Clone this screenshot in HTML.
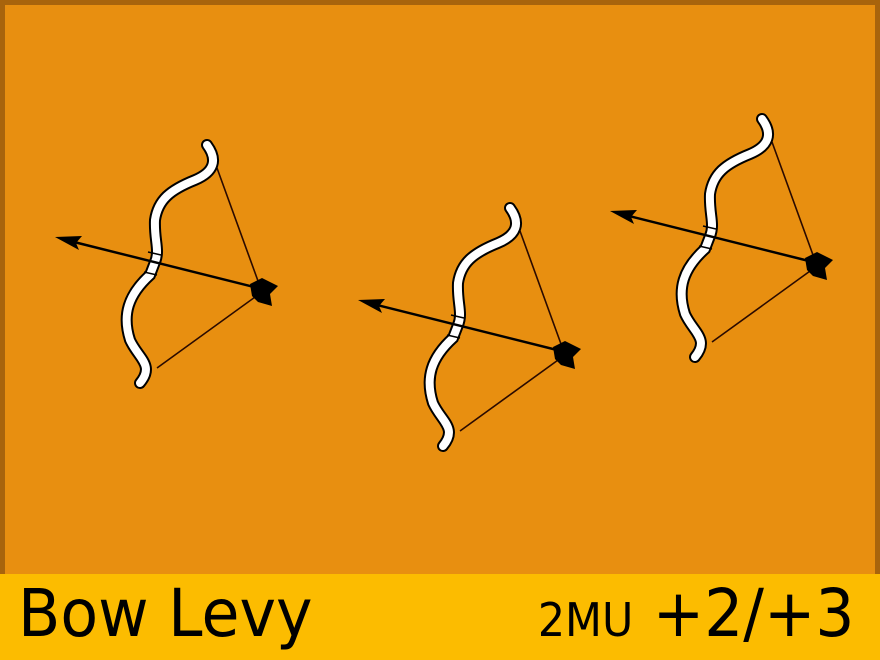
<!DOCTYPE html>
<html><head><meta charset="utf-8"><style>
html,body{margin:0;padding:0}
body{width:880px;height:660px;position:relative;overflow:hidden;font-family:"DejaVu Sans","Liberation Sans",sans-serif}
#card{position:absolute;left:0;top:0;width:880px;height:574px;background:#e88f10;box-sizing:border-box;border:5px solid #a8640c;border-bottom:none}
#bar{position:absolute;left:0;top:574px;width:880px;height:86px;background:#fcbc00}
#title{position:absolute;left:18px;top:574px;font-size:66px;line-height:80px;color:#000;transform:scaleX(0.935);transform-origin:left center}
#stats{position:absolute;right:26px;top:574px;font-size:66px;line-height:80px;color:#000;white-space:nowrap;transform:scaleX(0.93);transform-origin:right center}
#stats .mu{font-size:46px}
svg{position:absolute;left:0;top:0}
</style></head><body>
<div id="card"></div>
<svg width="880" height="574">
<defs>
<g id="bow">
<line x1="217" y1="168" x2="262" y2="292" stroke="#2a0a00" stroke-width="1.6"/>
<line x1="262" y1="292" x2="157" y2="368" stroke="#2a0a00" stroke-width="1.6"/>
<path d="M207,145 C218,160 214,172 195,180 C170,190 158,200 155,220 C154,240 160,250 155,262 L150,275 C128,295 122,315 130,340 C138,358 155,365 140,383" fill="none" stroke="#000" stroke-width="12" stroke-linecap="round"/>
<path d="M207,145 C218,160 214,172 195,180 C170,190 158,200 155,220 C154,240 160,250 155,262 L150,275 C128,295 122,315 130,340 C138,358 155,365 140,383" fill="none" stroke="#fff" stroke-width="8" stroke-linecap="round"/>
<line x1="148" y1="252" x2="161" y2="255" stroke="#000" stroke-width="1.5"/>
<line x1="144" y1="272" x2="157" y2="275" stroke="#000" stroke-width="1.5"/>
<line x1="70" y1="241" x2="270" y2="291" stroke="#000" stroke-width="2.5"/>
<polygon points="55,237 82,236 76,243 79,250" fill="#000"/>
<polygon points="250,284 262,278 278,286 270,294 272,306 258,302 252,296" fill="#000"/>
</g>
</defs>
<use href="#bow"/>
<use href="#bow" transform="translate(303,63)"/>
<use href="#bow" transform="translate(555,-26)"/>
</svg>
<div id="bar"></div>
<div id="title">Bow Levy</div>
<div id="stats"><span class="mu">2MU</span> +2/+3</div>
</body></html>
